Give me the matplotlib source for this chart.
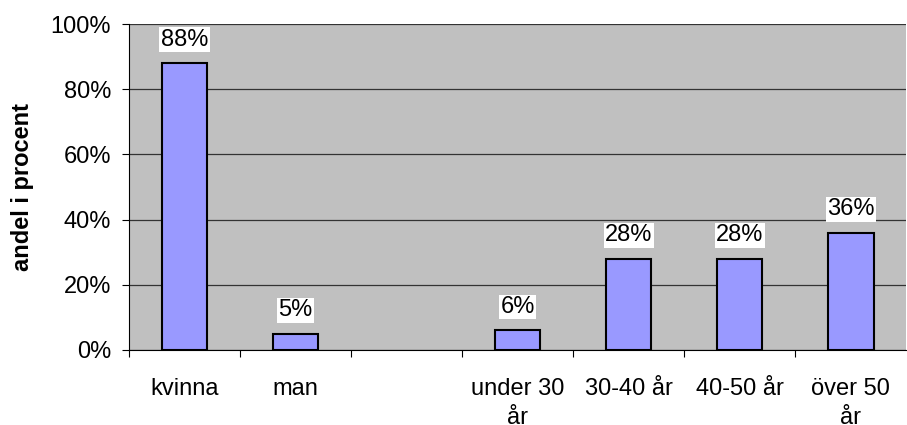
import matplotlib
matplotlib.use("Agg")
import matplotlib.pyplot as plt
import numpy as np

categories = ["kvinna", "man", "", "under 30\når", "30-40 år", "40-50 år", "över 50\når"]
values = [88, 5, None, 6, 28, 28, 36]

plt.rcParams["font.family"] = ["Liberation Sans", "DejaVu Sans"]
FS = 17

fig = plt.figure(figsize=(9.07, 4.25), dpi=100)
ax = fig.add_axes([0.1422, 0.1765, 0.857, 0.767])
ax.set_facecolor("#C0C0C0")

x = np.arange(len(categories))
for xi, v in zip(x, values):
    if v is None:
        continue
    ax.bar(xi, v, width=0.41, color="#9999FF", edgecolor="black", linewidth=1.5, zorder=3)
    ax.annotate(f"{v}%", (xi, v), xytext=(0, 9), textcoords="offset points",
                ha="center", va="bottom", fontsize=FS,
                bbox=dict(facecolor="white", edgecolor="none", pad=1), zorder=4)

ax.set_xlim(-0.5, len(categories) - 0.5)
ax.set_ylim(0, 100)
ax.set_yticks([0, 20, 40, 60, 80, 100])
ax.set_yticklabels([f"{t}%" for t in [0, 20, 40, 60, 80, 100]], fontsize=FS)
ax.yaxis.grid(True, color="#333333", linewidth=0.9, zorder=0)
ax.set_axisbelow(True)

ax.set_xticks(x)
ax.set_xticklabels(categories, fontsize=FS, linespacing=1.4, va="top")
ax.tick_params(axis="x", length=0, pad=20)
ax.set_xticks(np.arange(-0.5, len(categories) - 0.5, 1.0), minor=True)
ax.tick_params(axis="x", which="minor", length=5, color="black", width=0.8)
ax.tick_params(axis="y", length=5, width=0.8, pad=8)

for s in ["top", "right"]:
    ax.spines[s].set_visible(False)
ax.spines["left"].set_color("black")
ax.spines["bottom"].set_color("black")

ax.set_ylabel("andel i procent", fontsize=FS, fontweight="bold", labelpad=12)

fig.savefig("out.png", dpi=100)
